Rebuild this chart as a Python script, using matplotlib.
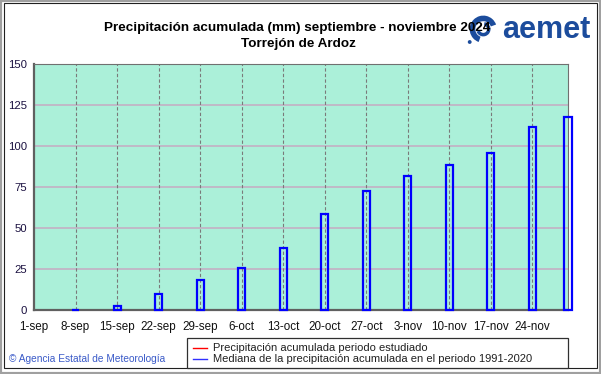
import numpy as np
import matplotlib
matplotlib.use("Agg")
import matplotlib.pyplot as plt
import matplotlib.dates as mdates
from matplotlib.lines import Line2D
from matplotlib.patches import Rectangle, Circle, Wedge

plt.rcParams["font.family"] = ["Liberation Sans", "DejaVu Sans"]

# |>- Data -<|
dates = np.array(
    ["2024-09-08", "2024-09-15", "2024-09-22", "2024-09-29",
     "2024-10-06", "2024-10-13", "2024-10-20", "2024-10-27", "2024-11-03",
     "2024-11-10", "2024-11-17", "2024-11-24", "2024-11-30"],
    dtype="datetime64[D]",
)
median_acc = [0.3, 2.4, 10.0, 18.3, 25.6, 37.6, 58.7, 72.7, 81.9, 88.6, 95.5, 111.8, 117.9]
tick_dates = np.array(
    ["2024-09-01", "2024-09-08", "2024-09-15", "2024-09-22", "2024-09-29",
     "2024-10-06", "2024-10-13", "2024-10-20", "2024-10-27", "2024-11-03",
     "2024-11-10", "2024-11-17", "2024-11-24"],
    dtype="datetime64[D]",
)
tick_labels = ["1-sep", "8-sep", "15-sep", "22-sep", "29-sep", "6-oct", "13-oct",
               "20-oct", "27-oct", "3-nov", "10-nov", "17-nov", "24-nov"]
y_ticks = [0, 25, 50, 75, 100, 125, 150]
legend_labels = ["Precipitación acumulada periodo estudiado",
                 "Mediana de la precipitación acumulada en el periodo 1991-2020"]

W, H = 601, 374
fig = plt.figure(figsize=(W / 100, H / 100), dpi=100)
fig.patch.set_facecolor("white")


def fx(px):
    return px / W


def fy(py):
    return 1 - py / H


# figure frame
fig.add_artist(Rectangle((0, 0), 1, 1, transform=fig.transFigure, fill=False,
                         edgecolor="#a0a0a0", linewidth=3))
fig.add_artist(Rectangle((fx(4), fy(368)), 593 / W, 365 / H, transform=fig.transFigure,
                         fill=False, edgecolor="#202020", linewidth=0.8))

ax = fig.add_axes([fx(34), fy(310), 534 / W, 246 / H])
ax.set_facecolor("#abf0d9")


def to_num(d):
    return mdates.date2num(d.astype("datetime64[s]").astype(object))


x = to_num(dates)
xt = to_num(tick_dates)

ax.set_xlim(xt[0], x[-1])
ax.set_ylim(0, 150)

# grid
for yv in y_ticks[1:-1]:
    ax.axhline(yv, color="#c4b0c4", linewidth=1.2, zorder=1)
for xv in xt[1:]:
    ax.axvline(xv, color="#7a7a7a", linewidth=0.8, linestyle=(0, (3, 2)), zorder=1)

# median bars
ax.bar(x, median_acc, width=1.2, facecolor="none", edgecolor="#0000ff",
       linewidth=1.6, zorder=3, clip_on=False)

ax.set_xticks(xt)
ax.set_xticklabels(tick_labels, fontsize=8.4, color="#101010")
ax.set_yticks(y_ticks)
ax.set_yticklabels([str(v) for v in y_ticks], fontsize=8.2, color="#1a1040")
ax.tick_params(axis="both", length=0)
ax.tick_params(axis="x", pad=8)
ax.tick_params(axis="y", pad=5)

for side in ["top", "right"]:
    ax.spines[side].set_color("#707070")
    ax.spines[side].set_linewidth(0.8)
for side in ["left", "bottom"]:
    ax.spines[side].set_color("#606060")
    ax.spines[side].set_linewidth(1.6)

# titles
fig.text(fx(297), fy(28), "Precipitación acumulada (mm) septiembre - noviembre 2024",
         ha="center", va="center", fontsize=9.7, fontweight="bold")
fig.text(fx(298), fy(44), "Torrejón de Ardoz",
         ha="center", va="center", fontsize=9.7, fontweight="bold")

# logo (approximation)
logo_blue = "#1c4c9c"
lax = fig.add_axes([fx(465), fy(46), 35 / W, 32 / H])
lax.set_xlim(-1, 1)
lax.set_ylim(-1, 1)
lax.set_aspect("equal")
lax.axis("off")
lax.add_patch(Circle((0, 0), 0.95, facecolor="white", edgecolor="none"))
lax.add_patch(Wedge((0.05, 0.05), 0.85, 20, 250, width=0.35, facecolor=logo_blue))
lax.add_patch(Wedge((0.05, 0.05), 0.45, 200, 80, width=0.22, facecolor=logo_blue))
lax.add_patch(Circle((-0.8, -0.75), 0.12, facecolor=logo_blue))
fig.text(fx(546), fy(30), "aemet", ha="center", va="center", fontsize=22,
         fontweight="bold", color=logo_blue)

# footer
fig.text(fx(9), fy(359), "© Agencia Estatal de Meteorología", ha="left", va="center",
         fontsize=7.3, color="#3a5ac8")

# legend (drawn by hand to match the box)
fig.add_artist(Rectangle((fx(187), fy(368)), 381 / W, 30 / H, transform=fig.transFigure,
                         facecolor="white", edgecolor="#303030", linewidth=0.9))
for row, (lab, col) in enumerate(zip(legend_labels, ["red", "#3030ff"])):
    yy = fy(348 + row * 11)
    fig.add_artist(Line2D([fx(193), fx(207)], [yy, yy], transform=fig.transFigure,
                          color=col, linewidth=1))
    fig.text(fx(213), yy, lab, ha="left", va="center", fontsize=8, color="#202020")

fig.savefig("out.png", dpi=100)
